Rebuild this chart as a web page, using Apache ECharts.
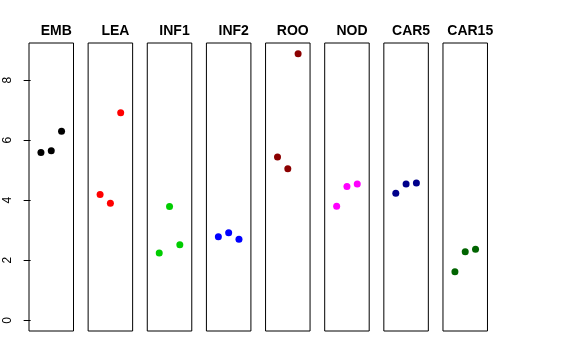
<!DOCTYPE html>
<html>
<head>
<meta charset="utf-8">
<script src="https://cdn.jsdelivr.net/npm/echarts@6/dist/echarts.min.js"></script>
<style>html,body{margin:0;padding:0;background:#fff}#c{width:576px;height:360px}</style>
</head>
<body>
<div id="c"></div>
<script>
const panels = ['EMB','LEA','INF1','INF2','ROO','NOD','CAR5','CAR15'];
const colors = ['#000000','#FF0000','#00CD00','#0000FF','#8B0000','#FF00FF','#00008B','#006400'];
const xPos = [1, 2, 3];
const EMB = [5.59, 5.65, 6.30];
const LEA = [4.19, 3.90, 6.91];
const INF1 = [2.24, 3.79, 2.52];
const INF2 = [2.78, 2.92, 2.70];
const ROO = [5.44, 5.05, 8.88];
const NOD = [3.80, 4.46, 4.54];
const CAR5 = [4.23, 4.54, 4.57];
const CAR15 = [1.62, 2.28, 2.37];
const yTicks = [0, 2, 4, 6, 8];

const seriesValues = [EMB, LEA, INF1, INF2, ROO, NOD, CAR5, CAR15];
const yMax = Math.max(...seriesValues.flat());
const yLo = 0 - 0.04 * yMax, yHi = yMax * 1.04;

const grids = [], xAxes = [], yAxes = [], series = [], titles = [];
panels.forEach((p, i) => {
  const left = 29 + i * 59.14, width = 44.5;
  grids.push({left: left, width: width, top: 43, height: 288, show: true, borderColor: '#000', borderWidth: 1, backgroundColor: 'transparent'});
  xAxes.push({gridIndex: i, type: 'value', min: -0.16, max: 4.16, show: false});
  yAxes.push({
    gridIndex: i, type: 'value', min: yLo, max: yHi,
    show: i === 0,
    axisLine: {show: false},
    splitLine: {show: false},
    axisTick: {show: true, length: 7, customValues: yTicks, lineStyle: {color: '#000'}},
    axisLabel: {show: true, customValues: yTicks, rotate: 90, margin: 15, fontSize: 12, color: '#000', fontFamily: 'Liberation Sans, Arial, sans-serif'}
  });
  series.push({
    type: 'scatter', xAxisIndex: i, yAxisIndex: i,
    data: xPos.map((x, k) => [x, seriesValues[i][k]]),
    symbol: 'circle', symbolSize: 7,
    itemStyle: {color: colors[i], opacity: 1},
    silent: true, animation: false
  });
  titles.push({
    text: p, left: left + width / 2, top: 19, textAlign: 'center',
    textStyle: {fontSize: 14, fontWeight: 'bold', color: '#000', fontFamily: 'Liberation Sans, Arial, sans-serif'}
  });
});

const chart = echarts.init(document.getElementById('c'), null, {renderer: 'canvas'});
chart.setOption({
  animation: false,
  backgroundColor: '#fff',
  title: titles,
  grid: grids,
  xAxis: xAxes,
  yAxis: yAxes,
  series: series
});
</script>
</body>
</html>
